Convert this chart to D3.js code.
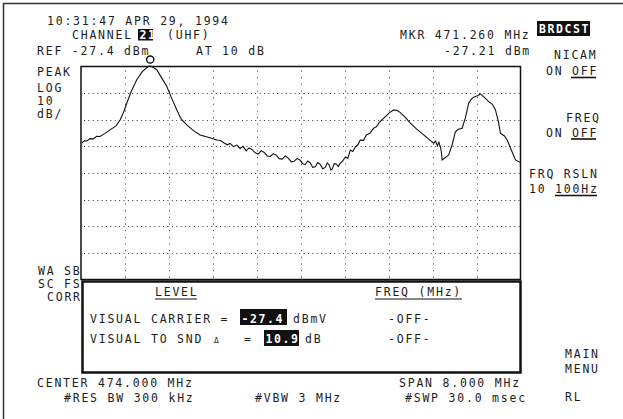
<!DOCTYPE html>
<html>
<head>
<meta charset="utf-8">
<script src="https://cdn.jsdelivr.net/npm/d3@7"></script>
<style>
  html, body { margin: 0; padding: 0; background: #fff; }
  svg { display: block; }
  text { font-family: "DejaVu Sans Mono", monospace; font-size: 11.5px; letter-spacing: 1.78px; fill: #1c1c1c; }
</style>
</head>
<body>
<svg></svg>
<script>
// Analyzer settings
const startFreq = 470.0;   // CENTER 474.000 MHz, SPAN 8.000 MHz
const stopFreq = 478.0;
const refLevel = -27.4;    // dBm
const dbPerDiv = 10;
const nDivX = 10;
const nDivY = 8;
const markerFreq = 471.26;
const markerLevel = -27.21;

// Trace, frequency [MHz] and level [dBm]
const freqMHz = [
    470.013, 470.060, 470.109, 470.165, 470.224, 470.285, 470.346, 470.430, 470.528, 470.638,
    470.711, 470.784, 470.833, 470.911, 471.015, 471.112, 471.226, 471.260, 471.312, 471.379,
    471.458, 471.562, 471.640, 471.744, 471.822, 471.926, 472.041, 472.168, 472.314, 472.473,
    472.540, 472.606, 472.660, 472.715, 472.775, 472.836, 472.897, 472.952, 473.007, 473.060,
    473.116, 473.170, 473.225, 473.280, 473.335, 473.390, 473.444, 473.500, 473.553, 473.608,
    473.663, 473.718, 473.772, 473.827, 473.881, 473.935, 473.990, 474.036, 474.082, 474.128,
    474.173, 474.219, 474.264, 474.310, 474.355, 474.400, 474.446, 474.483, 474.519, 474.550,
    474.574, 474.610, 474.647, 474.683, 474.719, 474.765, 474.811, 474.856, 474.902, 474.948,
    474.993, 475.040, 475.084, 475.140, 475.193, 475.260, 475.326, 475.380, 475.430, 475.540,
    475.612, 475.691, 475.758, 475.813, 475.904, 475.995, 476.105, 476.238, 476.323, 476.420,
    476.455, 476.487, 476.515, 476.542, 476.560, 476.573, 476.633, 476.693, 476.760, 476.815,
    476.869, 476.937, 476.997, 477.057, 477.106, 477.148, 477.216, 477.270, 477.343, 477.422,
    477.489, 477.544, 477.599, 477.635, 477.708, 477.757, 477.817, 477.909, 478.000
];
const levelDbm = [
    -56.2, -55.3, -55.4, -54.5, -54.6, -53.6, -53.7, -52.6, -51.2, -49.7,
    -47.5, -44.1, -41.2, -36.9, -32.4, -29.4, -27.3, -27.21, -27.7, -28.6,
    -31.3, -34.9, -38.8, -43.7, -47.1, -49.3, -51.4, -53.1, -54.0, -55.0,
    -55.2, -56.1, -56.8, -56.3, -57.5, -56.9, -58.2, -57.4, -59.1, -58.0,
    -58.6, -59.8, -60.3, -59.0, -59.7, -61.0, -61.2, -60.1, -60.7, -62.0,
    -62.2, -61.0, -61.8, -63.2, -63.0, -61.9, -62.6, -63.9, -64.2, -62.9,
    -63.6, -65.3, -65.1, -63.5, -64.2, -65.8, -65.3, -63.6, -64.4, -66.3,
    -65.9, -63.9, -64.0, -65.0, -63.8, -62.9, -61.4, -61.9, -58.8, -59.3,
    -57.6, -56.8, -55.0, -55.2, -53.1, -52.5, -50.6, -50.0, -48.4, -46.2,
    -44.8, -43.7, -43.9, -44.7, -46.5, -48.7, -50.8, -53.1, -54.6, -56.2,
    -55.4, -57.2, -55.9, -57.7, -59.5, -62.5, -61.6, -60.6, -56.5, -51.9,
    -51.0, -50.6, -46.7, -41.2, -39.6, -38.9, -38.4, -37.7, -39.0, -40.6,
    -41.6, -43.7, -48.2, -52.5, -53.5, -55.0, -58.0, -62.5, -63.5
];

// Screen annotations
const timeStamp = "10:31:47 APR 29, 1994";
const channelNumber = "21";
const refText = "REF -27.4 dBm";
const attenText = "AT 10 dB";
const markerText = "MKR 471.260 MHz";
const markerLevelText = "-27.21 dBm";
const leftLabels = ["PEAK", "LOG", "10", "dB/"];
const leftLowerLabels = ["WA SB", "SC FS", "CORR"];
const visualCarrier = "-27.4";
const visualToSound = "10.9";
const bottomTexts = ["CENTER 474.000 MHz", "#RES BW 300 kHz", "#VBW 3 MHz", "SPAN 8.000 MHz", "#SWP 30.0 msec"];

function plotSpectrum() {
    const width = 623;
    const height = 419;
    const plot = {left: 81, right: 520.5, top: 66.5, bottom: 279.5};

    const svg = d3.select("svg")
    .attr("width", width)
    .attr("height", height);

    // Scales
    const xScale = d3.scaleLinear()
    .domain([startFreq, stopFreq])
    .range([plot.left, plot.right]);

    const yScale = d3.scaleLinear()
    .domain([refLevel, refLevel - dbPerDiv * nDivY])
    .range([plot.top, plot.bottom]);

    // screen frame (top and left edge only)
    svg.append("path")
    .attr("d", "M3.5,419V3.5H623")
    .attr("fill", "none")
    .attr("stroke", "#333")
    .attr("stroke-width", 1.5);

    // dotted graticule
    const xGrid = d3.range(1, nDivX).map(i => startFreq + i * (stopFreq - startFreq) / nDivX);
    const yGrid = d3.range(1, nDivY).map(i => refLevel - i * dbPerDiv);

    svg.append("g")
    .selectAll("line")
    .data(yGrid)
    .join("line")
    .attr("x1", plot.left + 3)
    .attr("x2", plot.right)
    .attr("y1", d => Math.round(yScale(d)) + 0.5)
    .attr("y2", d => Math.round(yScale(d)) + 0.5)
    .attr("stroke", "#333")
    .attr("stroke-width", 1)
    .attr("stroke-dasharray", "1 3.39");

    svg.append("g")
    .selectAll("line")
    .data(xGrid)
    .join("line")
    .attr("x1", d => Math.round(xScale(d)) + 0.5)
    .attr("x2", d => Math.round(xScale(d)) + 0.5)
    .attr("y1", plot.top + 4)
    .attr("y2", plot.bottom)
    .attr("stroke", "#555")
    .attr("stroke-width", 1)
    .attr("stroke-dasharray", "1.2 5.45");

    // graph frame
    svg.append("rect")
    .attr("x", plot.left)
    .attr("y", plot.top)
    .attr("width", plot.right - plot.left)
    .attr("height", plot.bottom - plot.top)
    .attr("fill", "none")
    .attr("stroke", "#111")
    .attr("stroke-width", 1.5);

    // trace
    const trace = d3.zip(freqMHz, levelDbm);
    svg.append("path")
    .datum(trace)
    .attr("d", d3.line().x(d => xScale(d[0])).y(d => yScale(d[1])))
    .attr("fill", "none")
    .attr("stroke", "#111")
    .attr("stroke-width", 1.1);

    // marker
    svg.append("circle")
    .attr("cx", xScale(markerFreq))
    .attr("cy", yScale(markerLevel) - 6.5)
    .attr("r", 3.6)
    .attr("fill", "#fff")
    .attr("stroke", "#111")
    .attr("stroke-width", 1.5);

    // lower measurement box
    svg.append("rect")
    .attr("x", 82.5)
    .attr("y", 281.5)
    .attr("width", 438)
    .attr("height", 91)
    .attr("fill", "#fff")
    .attr("stroke", "#111")
    .attr("stroke-width", 2.5);

    function label(str, x, y) {
        return svg.append("text").attr("x", x).attr("y", y).text(str);
    }
    function inverse(str, x, y, box) {
        svg.append("rect")
        .attr("x", box[0]).attr("y", box[1])
        .attr("width", box[2]).attr("height", box[3])
        .attr("fill", "#111");
        return label(str, x, y)
        .style("fill", "#fff")
        .style("font-weight", "bold")
        .style("letter-spacing", "1.6px");
    }
    function underline(x1, x2, y, w) {
        svg.append("line")
        .attr("x1", x1).attr("x2", x2)
        .attr("y1", y).attr("y2", y)
        .attr("stroke", "#111")
        .attr("stroke-width", w);
    }

    // header
    label(timeStamp, 47, 25);
    label("CHANNEL", 72, 38.5);
    inverse(channelNumber, 139.5, 38.5, [138, 29, 15, 11.5]);
    label("(UHF)", 167, 38.5);
    label(refText, 37, 54.5);
    label(attenText, 196, 54.5);
    label(markerText, 400, 38.5);
    label(markerLevelText, 444, 54.5);
    inverse("BRDCST", 539, 33, [537, 21, 53, 15]);

    // softkey menu
    label("NICAM", 554, 59);
    label("ON OFF", 546, 75);
    underline(571, 596, 77.5, 1.6);
    label("FREQ", 566, 122);
    label("ON OFF", 546, 136.5);
    underline(571, 596, 139, 1.6);
    label("FRQ RSLN", 529, 178);
    label("10 100Hz", 529, 193);
    underline(555, 597, 195.5, 1.6);
    label("MAIN", 565, 358);
    label("MENU", 565, 373);
    label("RL", 565, 401);

    // left annotations
    [76, 91.5, 104.5, 117.5].forEach((y, i) => label(leftLabels[i], 37, y));
    label(leftLowerLabels[0], 38, 275);
    label(leftLowerLabels[1], 38, 288);
    label(leftLowerLabels[2], 47, 301);

    // measurement box content
    label("LEVEL", 155, 296);
    underline(155, 197, 299, 1);
    label("FREQ (MHz)", 375, 296);
    underline(375, 462, 299, 1);
    label("VISUAL CARRIER =", 90, 323);
    inverse(visualCarrier, 241.5, 323, [240, 309, 47, 16]);
    label("dBmV", 293, 323);
    label("-OFF-", 388, 323);
    label("VISUAL TO SND", 90, 343);
    label("\u0394", 214, 343).style("font-size", "8px");
    label("=", 244, 343);
    inverse(visualToSound, 265.5, 343, [264, 330, 35, 16]);
    label("dB", 305, 343);
    label("-OFF-", 388, 343);

    // bottom settings
    label(bottomTexts[0], 37, 387);
    label(bottomTexts[1], 64, 402);
    label(bottomTexts[2], 255, 402);
    label(bottomTexts[3], 399, 387);
    label(bottomTexts[4], 405, 402);
}

plotSpectrum();
</script>
</body>
</html>
